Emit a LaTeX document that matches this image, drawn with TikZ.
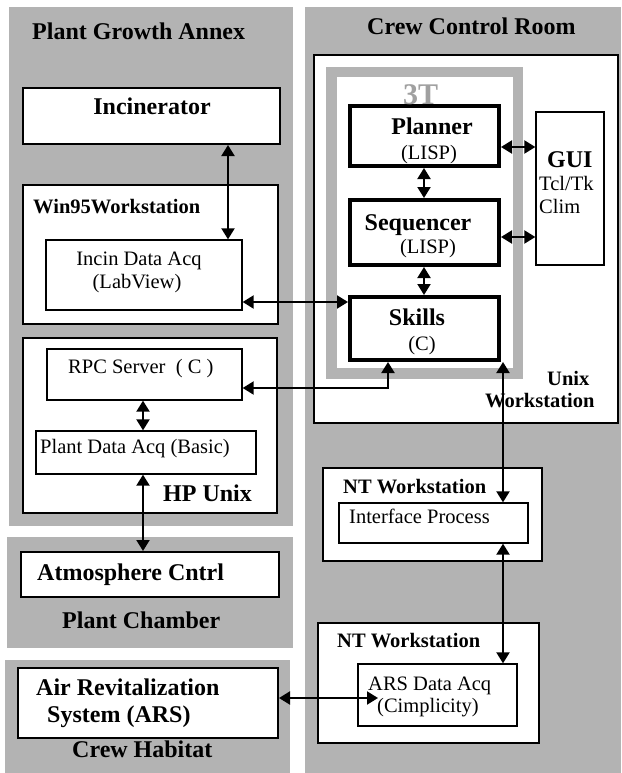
\documentclass[tikz,border=0pt]{standalone}
\usepackage{fontspec}
\setmainfont{Liberation Serif}
\usetikzlibrary{fit,arrows.meta}
\definecolor{panel}{RGB}{179,179,179}
\definecolor{ttgray}{RGB}{160,160,160}
\begin{document}
\begin{tikzpicture}[x=1pt,y=-1pt,
 panelbox/.style={fill=panel, inner sep=0, outer sep=0},
 box/.style={draw, fill=white, line width=2pt, inner sep=0},
 thinbox/.style={draw, fill=white, line width=1.3pt, inner sep=0},
 thickbox/.style={draw, fill=white, line width=4pt, inner sep=0},
 lbl/.style={inner sep=0, anchor=base west},
 clbl/.style={inner sep=0, anchor=base},
 big/.style={font=\fontsize{24}{28}\selectfont\bfseries},
 mid/.style={font=\fontsize{20.5}{24}\selectfont\bfseries},
 reg/.style={font=\fontsize{20.5}{24}\selectfont},
 conn/.style={line width=2pt, {Triangle[length=11pt,width=13pt]}-{Triangle[length=11pt,width=13pt]}},
]
\useasboundingbox (0,0) rectangle (621,773);
% gray regions
\node[panelbox, fit={(9,7) (293,526)}] (pga) {};
\node[panelbox, fit={(7,537) (293,648)}] (pch) {};
\node[panelbox, fit={(5,660) (290,773)}] (chab) {};
\node[panelbox, fit={(305,7) (621,773)}] (ccr) {};
% left boxes
\node[box, fit={(23,88) (280,144)}] (inc) {};
\node[box, fit={(23,185) (278,324)}] (w95) {};
\node[thinbox, fit={(46,240) (242,310)}] (idaq) {};
\node[box, fit={(23,338) (277,513)}] (hpu) {};
\node[thinbox, fit={(47,349) (242,400)}] (rpc) {};
\node[thinbox, fit={(36,431) (256,474)}] (pdaq) {};
\node[box, fit={(21,552) (279,597)}] (atm) {};
\node[box, fit={(18,668) (278,738)}] (ars) {};
% right boxes
\node[box, fit={(314,55) (618,423)}] (uws) {};
\node[draw=panel, line width=10.5pt, inner sep=0, fit={(331.5,72) (518,373.5)}] (tt) {};
\node[thickbox, fit={(350,106) (499,166)}] (plan) {};
\node[thickbox, fit={(350,200) (499,265)}] (seq) {};
\node[thickbox, fit={(350,297) (499,360)}] (skl) {};
\node[thinbox, fit={(536,112) (604,265)}] (gui) {};
\node[box, fit={(323,468) (542,561)}] (nt1) {};
\node[thinbox, fit={(339,503) (528,543)}] (intf) {};
\node[box, fit={(318,623) (539,743)}] (nt2) {};
\node[thinbox, fit={(358,664) (517,726)}] (adaq) {};
% texts
\node[lbl, big] (tpga) at (32,40) {Plant Growth Annex};
\node[lbl, big] (tccr) at (367,35) {Crew Control Room};
\node[clbl, big] (tinc) at (152,115) {Incinerator};
\node[lbl, mid] (tw95) at (33,213) {Win95Workstation};
\node[clbl, reg] (tidaq1) at (139,265) {Incin Data Acq};
\node[clbl, reg] (tidaq2) at (137,288) {(LabView)};
\node[lbl, reg] (trpc) at (68,373) {RPC Server\ \ ( C )};
\node[lbl, reg] (tpdaq) at (40,453) {Plant Data Acq (Basic)};
\node[lbl, big] (thpu) at (163,501) {HP Unix};
\node[lbl, big] (tatm) at (37,580) {Atmosphere Cntrl};
\node[lbl, big] (tpch) at (62,628) {Plant Chamber};
\node[lbl, big] (tars1) at (36,695) {Air Revitalization};
\node[lbl, big] (tars2) at (47,722) {System (ARS)};
\node[lbl, big] (tchab) at (72,757) {Crew Habitat};
\node[lbl, font=\fontsize{30}{34}\selectfont\bfseries, text=ttgray] (ttt) at (403,105) {3T};
\node[clbl, big] (tplan1) at (432,135) {Planner};
\node[clbl, reg] (tplan2) at (429,159) {(LISP)};
\node[clbl, big] (tseq1) at (418,230) {Sequencer};
\node[clbl, reg] (tseq2) at (428,253) {(LISP)};
\node[clbl, big] (tskl1) at (417,325) {Skills};
\node[clbl, reg] (tskl2) at (422,350) {(C)};
\node[lbl, big] (tgui1) at (547,167) {GUI};
\node[lbl, reg] (tgui2) at (539,190) {Tcl/Tk};
\node[lbl, reg] (tgui3) at (539,213) {Clim};
\node[lbl, mid] (tuws1) at (547,385) {Unix};
\node[lbl, mid] (tuws2) at (485,407) {Workstation};
\node[lbl, mid] (tnt1) at (343,493) {NT Workstation};
\node[lbl, reg] (tintf) at (349,523) {Interface Process};
\node[lbl, mid] (tnt2) at (337,647) {NT Workstation};
\node[lbl, reg] (tadaq1) at (368,690) {ARS Data Acq};
\node[lbl, reg] (tadaq2) at (377,712) {(Cimplicity)};
% helper coordinates
\coordinate (x228) at (228,0);
\coordinate (y302) at (0,302);
\coordinate (c388) at (388,388);
\coordinate (x143) at (143,0);
\coordinate (x424) at (424,0);
\coordinate (y145) at (0,147);
\coordinate (y237) at (0,237);
\coordinate (c503) at (503,362);
\coordinate (c378) at (378,698);
% connectors
\draw[conn] (inc.south -| x228) -- (idaq.north -| x228);
\draw[conn] (idaq.east |- y302) -- (skl.west |- y302);
\draw[conn] (rpc.east |- c388) -- (c388) -- (skl.south -| c388);
\draw[conn] (rpc.south -| x143) -- (pdaq.north -| x143);
\draw[conn] (pdaq.south -| x143) -- (atm.north -| x143);
\draw[conn] (plan.south -| x424) -- (seq.north -| x424);
\draw[conn] (seq.south -| x424) -- (skl.north -| x424);
\draw[conn] (plan.east |- y145) -- (gui.west |- y145);
\draw[conn] (seq.east |- y237) -- (gui.west |- y237);
\draw[conn] (c503) -- (intf.north -| c503);
\draw[conn] (intf.south -| c503) -- (adaq.north -| c503);
\draw[conn] (ars.east |- c378) -- (c378);
\end{tikzpicture}
\end{document}
